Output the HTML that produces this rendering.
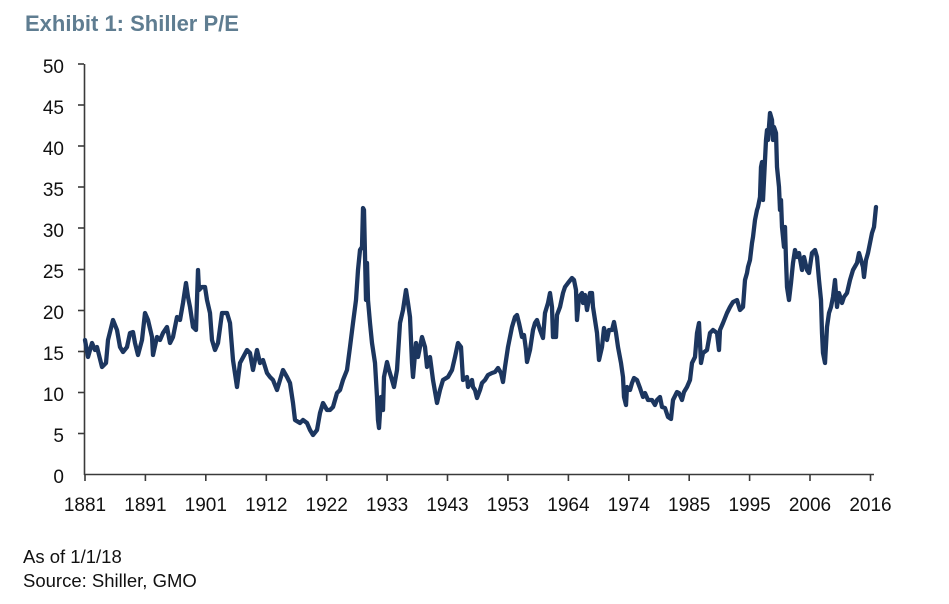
<!DOCTYPE html>
<html><head><meta charset="utf-8"><style>
html,body{margin:0;padding:0;background:#fff;}
svg{display:block;}
text{font-family:"Liberation Sans",Arial,sans-serif;}
</style></head><body>
<svg width="949" height="604" viewBox="0 0 949 604" xmlns="http://www.w3.org/2000/svg">
<rect width="949" height="604" fill="#fff"/>
<text x="25" y="31" font-size="22" font-weight="bold" fill="#5f7d91">Exhibit 1: Shiller P/E</text>
<g stroke="#3a3a3a" stroke-width="1.6" fill="none">
<line x1="84.5" y1="64" x2="84.5" y2="475"/>
<line x1="84" y1="474.5" x2="874" y2="474.5"/>
<line x1="78" y1="64" x2="84" y2="64"/>
<line x1="78" y1="105" x2="84" y2="105"/>
<line x1="78" y1="146" x2="84" y2="146"/>
<line x1="78" y1="187" x2="84" y2="187"/>
<line x1="78" y1="228" x2="84" y2="228"/>
<line x1="78" y1="269.5" x2="84" y2="269.5"/>
<line x1="78" y1="310.5" x2="84" y2="310.5"/>
<line x1="78" y1="351.5" x2="84" y2="351.5"/>
<line x1="78" y1="392.5" x2="84" y2="392.5"/>
<line x1="78" y1="433.5" x2="84" y2="433.5"/>
<line x1="85" y1="474" x2="85" y2="481"/>
<line x1="145.4" y1="474" x2="145.4" y2="481"/>
<line x1="205.8" y1="474" x2="205.8" y2="481"/>
<line x1="266.3" y1="474" x2="266.3" y2="481"/>
<line x1="326.7" y1="474" x2="326.7" y2="481"/>
<line x1="387.1" y1="474" x2="387.1" y2="481"/>
<line x1="447.5" y1="474" x2="447.5" y2="481"/>
<line x1="507.9" y1="474" x2="507.9" y2="481"/>
<line x1="568.4" y1="474" x2="568.4" y2="481"/>
<line x1="628.8" y1="474" x2="628.8" y2="481"/>
<line x1="689.2" y1="474" x2="689.2" y2="481"/>
<line x1="749.6" y1="474" x2="749.6" y2="481"/>
<line x1="810" y1="474" x2="810" y2="481"/>
<line x1="870.5" y1="474" x2="870.5" y2="481"/>
</g>
<g font-size="19" fill="#111" text-anchor="end">
<text x="64" y="73">50</text>
<text x="64" y="114">45</text>
<text x="64" y="155">40</text>
<text x="64" y="196">35</text>
<text x="64" y="237">30</text>
<text x="64" y="278">25</text>
<text x="64" y="319">20</text>
<text x="64" y="360">15</text>
<text x="64" y="401">10</text>
<text x="64" y="442">5</text>
<text x="64" y="483">0</text>
</g>
<g font-size="19" fill="#111" text-anchor="middle">
<text x="85" y="511">1881</text>
<text x="145.4" y="511">1891</text>
<text x="205.8" y="511">1901</text>
<text x="266.3" y="511">1912</text>
<text x="326.7" y="511">1922</text>
<text x="387.1" y="511">1933</text>
<text x="447.5" y="511">1943</text>
<text x="507.9" y="511">1953</text>
<text x="568.4" y="511">1964</text>
<text x="628.8" y="511">1974</text>
<text x="689.2" y="511">1985</text>
<text x="749.6" y="511">1995</text>
<text x="810" y="511">2006</text>
<text x="870.5" y="511">2016</text>
</g>
<polyline fill="none" stroke="#1c365f" stroke-width="4.3" stroke-linejoin="round" stroke-linecap="round" points="
85,340 88,357 92,343 95,350 97,347 102,367 106,363 108,340 113,320 117,330 120,347 123,352 127,347 130,333 133,332 135,343 138,355 142,340 145,313 148,320 152,337 153,355 157,337 160,340 163,333 167,327 170,343 173,337 177,317 180,320 183,303 186,283 188,297 190,307 193,327 196,330 198,270 199,290 202,287 205,287 207,300 210,313 212,340 215,350 218,343 222,313 227,313 230,323 233,360 237,387 240,363 247,350 250,353 253,370 257,350 260,363 263,360 267,373
270,377 273,380 277,390 280,380 283,370 287,377 290,383 293,403 295,420 300,423 303,420 307,423 310,430 313,435 317,430 320,413 323,403 327,410 330,410 333,407 337,393 340,390 343,380 347,370 350,347 353,323 356,300 358,270 360,250 362,247 363,208 364,210 366,300 367,263 368,300 370,323 372,343 375,363 377,397 378,420 379,428 381,397 383,410 384,377 387,362 389,370 392,380 394,387 397,370 400,323 403,310 406,290 408,303 410,317 412,363 413,377 416,343 418,357 422,337 425,347 427,367 430,357 433,380 437,403 440,390 443,380 448,377 452,370 455,357 458,343
461,347 463,380 467,377 468,387 472,380 473,387 475,390 477,398 480,390 482,383 485,380 488,375 492,373 495,372 498,368 501,373 503,382 505,367 508,347 512,327 515,317 517,315 519,323 522,337 524,335 526,350 527,362 530,350 533,330 535,323 537,320 540,330 543,338 545,313 548,303 550,293 552,307 553,337 556,337 557,315 560,307 563,293 565,287 568,283 572,278 574,280 576,290 577,320 579,297 582,293 583,303 585,295 587,310 590,293 592,293 593,307 595,320 597,333 599,360 602,347 604,328 607,340 609,330 612,330 614,322 616,333 618,347 621,363 623,377 624,397 626,405 627,387 630,390 632,383 634,378 637,380 640,388 643,397 645,393 648,400 652,400 655,405 657,400 660,397 662,407 665,408 668,417 671,419 673,400 677,392 679,393 682,400 684,392
687,387 690,380 692,363 695,357 697,333 699,323 701,363 703,353 707,350 710,333 713,330 717,333 719,350 720,330 723,323 727,313 730,307 733,302 737,300 740,310 743,307 745,280 747,273 748,267 750,260 752,243 753,237 755,220 757,210 758,207 760,197 761,167 762,162 763,200 765,160 766,140 767,130 768,140 770,113 772,120 773,140 774,127 776,133 777,167 779,187 780,210 781,200 782,227 784,247 785,227 786,260 787,287 789,300 791,283 793,263 795,250 797,257 799,253 802,270 804,257 807,270 809,273 812,253 815,250 817,257 819,280 821,300 822,333 823,353 825,363 827,327 829,313 831,307 833,297 835,280 837,307 839,293 842,303 844,297 847,293 850,280 853,270 857,263 859,253 861,260 863,267 864,277 866,260 868,253 870,243 872,233 874,227 876,207"/>
<g font-size="18.5" fill="#111">
<text x="23" y="563">As of 1/1/18</text>
<text x="23" y="587">Source: Shiller, GMO</text>
</g>
</svg>
</body></html>
